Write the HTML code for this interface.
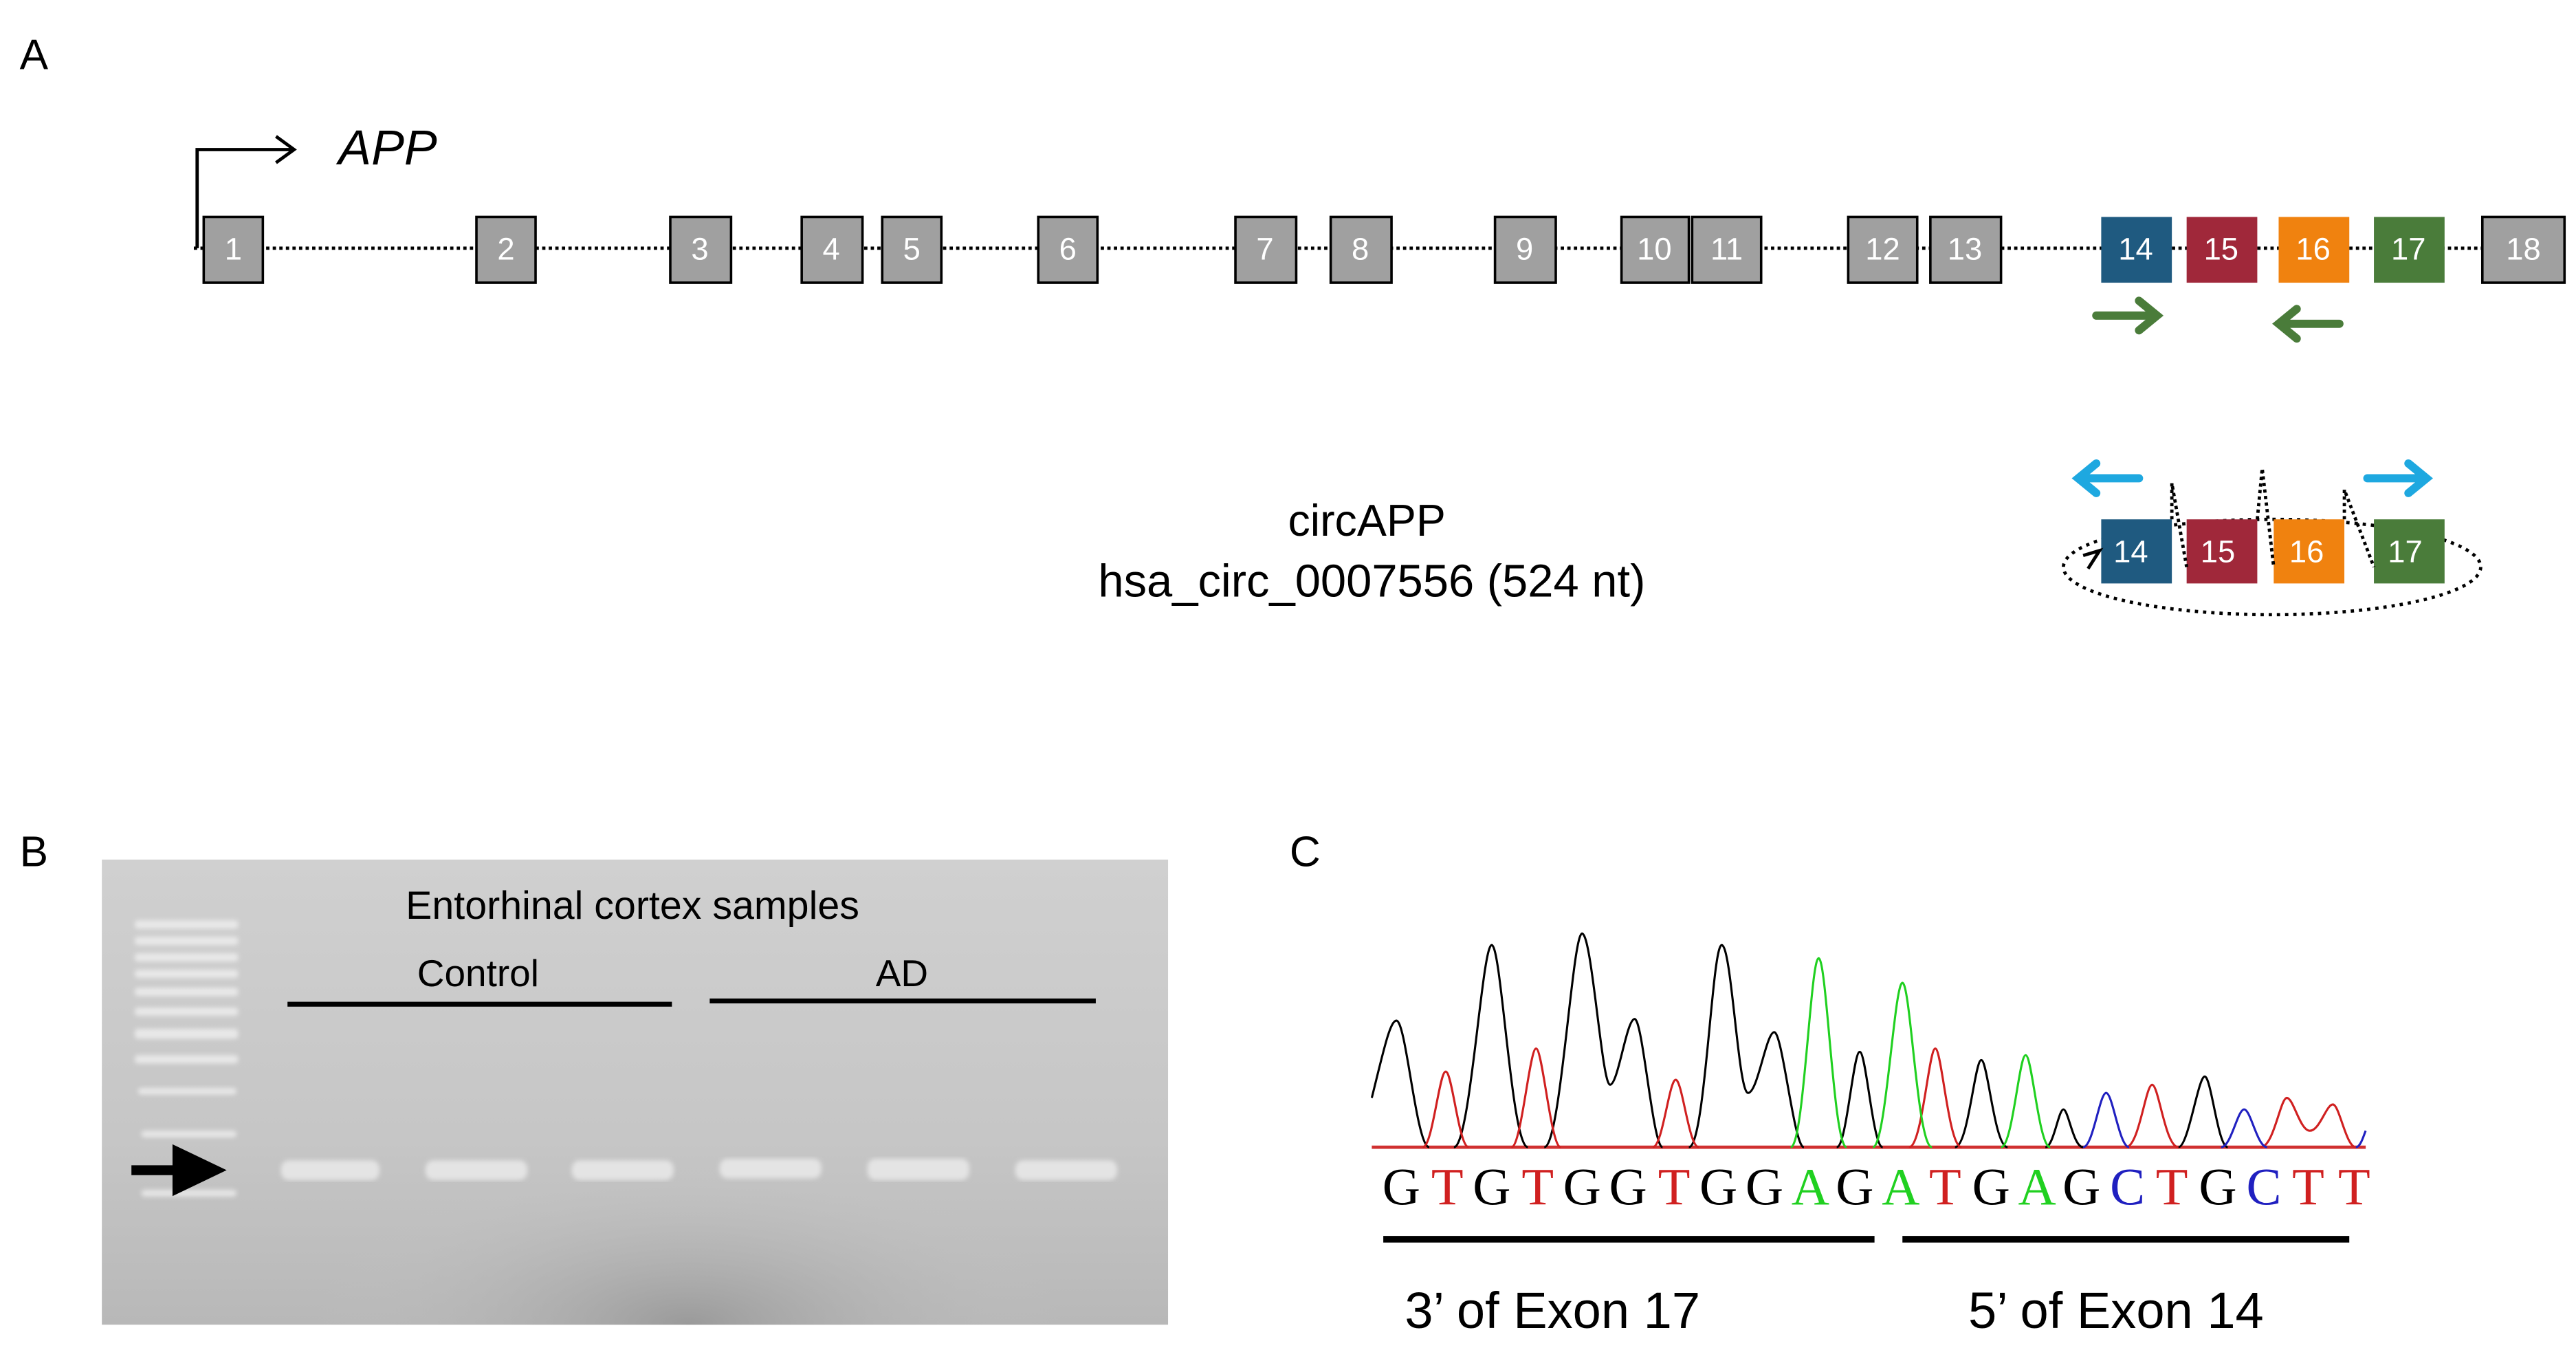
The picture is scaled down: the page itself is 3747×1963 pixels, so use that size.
<!DOCTYPE html>
<html><head><meta charset="utf-8"><style>html,body{margin:0;padding:0;background:#fff}svg{display:block}</style></head>
<body>
<svg width="3747" height="1963" viewBox="0 0 1568 821.4" preserveAspectRatio="none" xmlns="http://www.w3.org/2000/svg" font-family="Liberation Sans, sans-serif">
<defs>
<linearGradient id="gel" x1="0" y1="0" x2="0" y2="1"><stop offset="0" stop-color="#d0d0d0"/><stop offset="0.6" stop-color="#c6c6c6"/><stop offset="1" stop-color="#b8b8b8"/></linearGradient>
<radialGradient id="dk" cx="0.55" cy="1" r="0.35"><stop offset="0" stop-color="#9a9a9a"/><stop offset="1" stop-color="#c4c4c4" stop-opacity="0"/></radialGradient>
<filter id="bl"><feGaussianBlur stdDeviation="1.5"/></filter>
</defs>
<text x="12" y="42" font-size="26">A</text>
<text x="12" y="527" font-size="26">B</text>
<text x="785" y="527" font-size="26">C</text>
<line x1="118" y1="151" x2="1511" y2="151" stroke="#000" stroke-width="2" stroke-dasharray="2,2"/>
<path d="M120 151 V91 H178 M168 83 L179 91 L168 99" fill="none" stroke="#000" stroke-width="2"/>
<text x="206" y="100" font-size="30" font-style="italic">APP</text>
<g stroke="#000" stroke-width="1.5" fill="#a0a0a0">
<rect x="124" y="132" width="36" height="40"/><rect x="290" y="132" width="36" height="40"/><rect x="408" y="132" width="37" height="40"/><rect x="488" y="132" width="37" height="40"/><rect x="537" y="132" width="36" height="40"/><rect x="632" y="132" width="36" height="40"/><rect x="752" y="132" width="37" height="40"/><rect x="810" y="132" width="37" height="40"/><rect x="910" y="132" width="37" height="40"/><rect x="987" y="132" width="41" height="40"/><rect x="1030" y="132" width="42" height="40"/><rect x="1125" y="132" width="42" height="40"/><rect x="1175" y="132" width="43" height="40"/><rect x="1511" y="132" width="50" height="40"/>
</g>
<rect x="1279" y="132" width="43" height="40" fill="#1f5a80"/><rect x="1331" y="132" width="43" height="40" fill="#a0283a"/><rect x="1387" y="132" width="43" height="40" fill="#f0820f"/><rect x="1445" y="132" width="43" height="40" fill="#4a7c3a"/>
<g fill="#fff" font-size="19" text-anchor="middle">
<text x="142" y="158">1</text><text x="308" y="158">2</text><text x="426" y="158">3</text><text x="506" y="158">4</text><text x="555" y="158">5</text><text x="650" y="158">6</text><text x="770" y="158">7</text><text x="828" y="158">8</text><text x="928" y="158">9</text><text x="1007" y="158">10</text><text x="1051" y="158">11</text><text x="1146" y="158">12</text><text x="1196" y="158">13</text><text x="1300" y="158">14</text><text x="1352" y="158">15</text><text x="1408" y="158">16</text><text x="1466" y="158">17</text><text x="1536" y="158">18</text>
</g>
<g stroke="#4a7c3a" stroke-width="5" fill="none" stroke-linecap="round"><path d="M1276 192 H1312 M1302 183 L1313 192 L1302 201"/><path d="M1424 197 H1388 M1398 188 L1387 197 L1398 206"/></g>
<text x="832" y="326" font-size="27" text-anchor="middle">circAPP</text>
<text x="835" y="363" font-size="28" text-anchor="middle">hsa_circ_0007556 (524 nt)</text>
<ellipse cx="1383" cy="345" rx="127" ry="29" fill="none" stroke="#000" stroke-width="2" stroke-dasharray="2,3"/>
<rect x="1279" y="316" width="43" height="39" fill="#1f5a80"/><rect x="1331" y="316" width="43" height="39" fill="#a0283a"/><rect x="1384" y="316" width="43" height="39" fill="#f0820f"/><rect x="1445" y="316" width="43" height="39" fill="#4a7c3a"/>
<g fill="#fff" font-size="19" text-anchor="middle"><text x="1297" y="342">14</text><text x="1350" y="342">15</text><text x="1404" y="342">16</text><text x="1464" y="342">17</text></g>
<path d="M1322 316 V294 L1331 345 M1374 316 L1377 285 L1384 345 M1427 316 V298 L1445 345" fill="none" stroke="#000" stroke-width="2" stroke-dasharray="2,2"/>
<path d="M1268 338 L1278 335 L1271 346" fill="none" stroke="#000" stroke-width="2"/>
<g stroke="#1ea8e0" stroke-width="5" fill="none" stroke-linecap="round"><path d="M1302 291 H1266 M1276 282 L1265 291 L1276 300"/><path d="M1441 291 H1476 M1466 282 L1477 291 L1466 300"/></g>
<rect x="62" y="523" width="649" height="283" fill="url(#gel)"/>
<rect x="62" y="523" width="649" height="283" fill="url(#dk)"/>
<g fill="#f0f0f0" opacity="0.8" filter="url(#bl)">
<rect x="82" y="560" width="63" height="5" rx="2"/><rect x="82" y="570" width="63" height="5" rx="2"/><rect x="82" y="580" width="63" height="5" rx="2"/><rect x="82" y="590" width="63" height="5" rx="2"/><rect x="82" y="601" width="63" height="5" rx="2"/><rect x="82" y="613" width="63" height="5" rx="2"/><rect x="82" y="626" width="63" height="6" rx="2"/><rect x="82" y="642" width="63" height="5" rx="2"/><rect x="84" y="662" width="60" height="4" rx="2"/><rect x="86" y="688" width="58" height="4" rx="2"/><rect x="86" y="724" width="58" height="4" rx="2"/>
</g>
<g fill="#e4e4e4" filter="url(#bl)"><rect x="171" y="706" width="60" height="12" rx="5"/><rect x="259" y="706" width="62" height="12" rx="5"/><rect x="348" y="706" width="62" height="12" rx="5"/><rect x="438" y="705" width="62" height="12" rx="5"/><rect x="528" y="705" width="62" height="13" rx="5"/><rect x="618" y="706" width="62" height="12" rx="5"/></g>
<path d="M80 712 H110 M108 701 L131 712 L108 723 Z" stroke="#000" stroke-width="6" fill="#000"/>
<text x="385" y="559" font-size="24" text-anchor="middle">Entorhinal cortex samples</text>
<text x="291" y="600" font-size="23" text-anchor="middle">Control</text>
<text x="549" y="600" font-size="23" text-anchor="middle">AD</text>
<line x1="175" y1="611" x2="409" y2="611" stroke="#000" stroke-width="3"/><line x1="432" y1="609" x2="667" y2="609" stroke="#000" stroke-width="3"/>
<line x1="835" y1="698" x2="1440" y2="698" stroke="#d03030" stroke-width="2"/>
<g fill="none" stroke-width="1.3">
<g stroke="#000">
<path d="M835 668 C842 640,846 621,850 621 C856 621,862 698,870 698"/>
<path d="M885 698 C895 698,902 575,908 575 C914 575,920 698,930 698"/>
<path d="M940 698 C950 698,957 568,963 568 C969 568,975 660,980 660 C985 660,990 620,995 620 C1000 620,1006 698,1012 698"/>
<path d="M1028 698 C1038 698,1042 575,1048 575 C1054 575,1058 665,1064 665 C1070 665,1075 628,1080 628 C1085 628,1092 698,1098 698"/>
<path d="M1118 698 C1124 698,1128 640,1132 640 C1136 640,1140 698,1146 698"/>
<path d="M1190 698 C1198 698,1202 645,1206 645 C1210 645,1214 698,1222 698"/>
<path d="M1245 698 C1250 698,1253 675,1256 675 C1259 675,1262 698,1268 698"/>
<path d="M1326 698 C1332 698,1338 655,1342 655 C1346 655,1350 698,1356 698"/>
</g>
<g stroke="#d02020">
<path d="M866 698 C872 698,876 652,880 652 C884 652,888 698,894 698"/>
<path d="M920 698 C926 698,931 638,935 638 C939 638,944 698,950 698"/>
<path d="M1006 698 C1012 698,1016 657,1020 657 C1024 657,1028 698,1034 698"/>
<path d="M1162 698 C1170 698,1174 638,1178 638 C1182 638,1186 698,1194 698"/>
<path d="M1294 698 C1302 698,1306 660,1310 660 C1314 660,1318 698,1326 698"/>
<path d="M1376 698 C1384 698,1388 668,1392 668 C1396 668,1400 688,1406 688 C1412 688,1416 672,1420 672 C1424 672,1428 698,1434 698"/>
</g>
<g stroke="#20d020">
<path d="M1090 698 C1098 698,1102 583,1107 583 C1112 583,1116 698,1124 698"/>
<path d="M1140 698 C1148 698,1153 598,1158 598 C1163 598,1167 698,1176 698"/>
<path d="M1218 698 C1225 698,1229 642,1233 642 C1237 642,1241 698,1248 698"/>
</g>
<g stroke="#2020c0">
<path d="M1268 698 C1274 698,1278 665,1282 665 C1286 665,1290 698,1296 698"/>
<path d="M1352 698 C1358 698,1362 675,1366 675 C1370 675,1374 698,1380 698"/>
<path d="M1434 698 C1437 698,1439 690,1440 688"/>
</g>
</g>
<g font-family="Liberation Serif, serif" font-size="32" text-anchor="middle">
<text x="853" y="733">G</text><text x="881" y="733" fill="#d02020">T</text><text x="908" y="733">G</text><text x="936" y="733" fill="#d02020">T</text><text x="963" y="733">G</text><text x="991" y="733">G</text><text x="1019" y="733" fill="#d02020">T</text><text x="1046" y="733">G</text><text x="1074" y="733">G</text><text x="1102" y="733" fill="#20d020">A</text><text x="1129" y="733">G</text><text x="1157" y="733" fill="#20d020">A</text><text x="1184" y="733" fill="#d02020">T</text><text x="1212" y="733">G</text><text x="1240" y="733" fill="#20d020">A</text><text x="1267" y="733">G</text><text x="1295" y="733" fill="#2020c0">C</text><text x="1322" y="733" fill="#d02020">T</text><text x="1350" y="733">G</text><text x="1378" y="733" fill="#2020c0">C</text><text x="1405" y="733" fill="#d02020">T</text><text x="1433" y="733" fill="#d02020">T</text>
</g>
<line x1="842" y1="754" x2="1141" y2="754" stroke="#000" stroke-width="4"/><line x1="1158" y1="754" x2="1430" y2="754" stroke="#000" stroke-width="4"/>
<text x="945" y="808" font-size="31" text-anchor="middle">3’ of Exon 17</text>
<text x="1288" y="808" font-size="31" text-anchor="middle">5’ of Exon 14</text>
</svg>
</body></html>
